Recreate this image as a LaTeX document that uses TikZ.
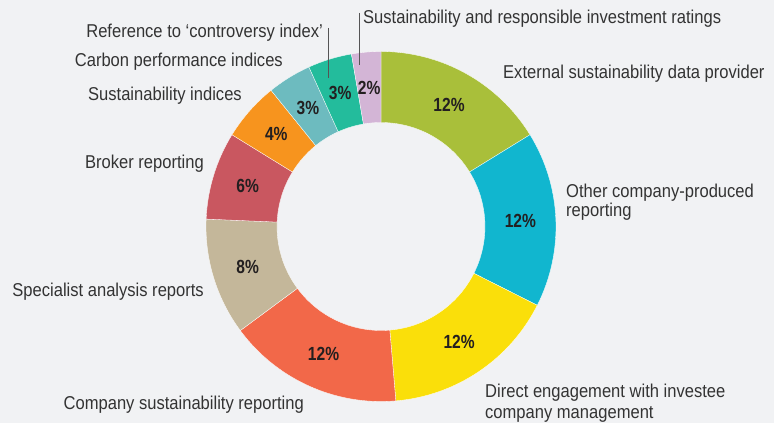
\documentclass[tikz,border=0pt]{standalone}
\usepackage{fontspec}
\setmainfont{Liberation Sans}[FakeStretch=0.89, BoldFeatures={FakeStretch=0.82}]
\definecolor{bg}{HTML}{F1F2F4}
\definecolor{txt}{HTML}{333333}
\definecolor{pctc}{HTML}{231F20}
\definecolor{leader}{HTML}{555555}
\definecolor{cgreen}{HTML}{A9BF3A}
\definecolor{ccyan}{HTML}{11B6CF}
\definecolor{cyellow}{HTML}{FADF0A}
\definecolor{corange}{HTML}{F26849}
\definecolor{ctan}{HTML}{C4B79A}
\definecolor{cred}{HTML}{C95760}
\definecolor{camber}{HTML}{F7941E}
\definecolor{cgrey}{HTML}{6DBBBF}
\definecolor{cteal}{HTML}{23BC9C}
\definecolor{cpink}{HTML}{D3B5D6}
\begin{document}
\begin{tikzpicture}[x=1pt,y=1pt,
  lbl/.style={font=\fontsize{18.6}{19.5}\selectfont, text=txt, inner sep=0pt},
  pct/.style={font=\fontsize{19}{19.5}\selectfont\bfseries, text=pctc, inner sep=0pt},
  slice/.style={draw=white, line width=0.3pt},
  leadline/.style={draw=leader, line width=0.8pt}]
\fill[bg] (0,0) rectangle (774,423);
\useasboundingbox (0,0) rectangle (774,423);
\coordinate (C) at (381,196.5);
\begin{scope}[shift={(C)}]
\foreach \a/\b/\col/\p/\n in {
  90/31.622/cgreen/12/p1,
  31.622/-26.757/ccyan/12/p2,
  -26.757/-85.135/cyellow/12/p3,
  -85.135/-143.514/corange/12/p4,
  -143.514/-182.432/ctan/8/p5,
  -182.432/-211.622/cred/6/p6,
  -211.622/-231.081/camber/4/p7,
  -231.081/-245.676/cgrey/3/p8,
  -245.676/-260.270/cteal/3/p9,
  -260.270/-270/cpink/2/p10}{
  \fill[\col, slice] (\a:175) arc[start angle=\a, end angle=\b, radius=175]
    -- (\b:104) arc[start angle=\b, end angle=\a, radius=104] -- cycle;
  \pgfmathsetmacro\m{(\a+\b)/2}
  \node[pct] (\n) at (\m:139.5) {\p\%};
}
\end{scope}
% labels
\node[lbl, anchor=base west] (lratings) at (363,399) {Sustainability and responsible investment ratings};
\node[lbl, anchor=base east] (lcontro) at (323,385) {Reference to ‘controversy index’};
\node[lbl, anchor=base east] (lcarbon) at (283,356.3) {Carbon performance indices};
\node[lbl, anchor=base east] (lsustidx) at (242,322) {Sustainability indices};
\node[lbl, anchor=base east] (lbroker) at (204,254) {Broker reporting};
\node[lbl, anchor=base east] (lspec) at (204,126.3) {Specialist analysis reports};
\node[lbl, anchor=base east] (lcomp) at (304,13) {Company sustainability reporting};
\node[lbl, anchor=base west] (ldirA) at (485,25.3) {Direct engagement with investee};
\node[lbl, anchor=base west] (ldirB) at (485,4.7) {company management};
\node[lbl, anchor=base west] (lothA) at (566,225) {Other company-produced};
\node[lbl, anchor=base west] (lothB) at (566,206) {reporting};
\node[lbl, anchor=base west] (lext) at (503,344) {External sustainability data provider};
% leaders
\coordinate (r1) at (359,410);
\coordinate (r2) at (359,358);
\coordinate (c1) at (328,395);
\coordinate (c2) at (328,345);
\draw[leadline] (r1) -- (r2);
\draw[leadline] (c1) -- (c2);
\end{tikzpicture}
\end{document}
